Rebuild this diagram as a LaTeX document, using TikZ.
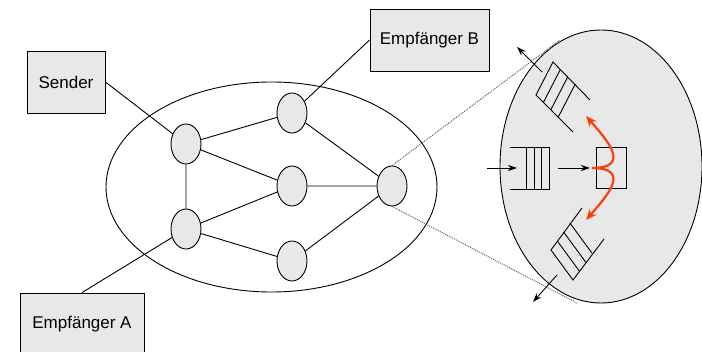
\documentclass[tikz,border=0pt]{standalone}
\usepackage{fontspec}
\setmainfont{Liberation Sans}
\usepackage{tikz}
\usetikzlibrary{shapes.geometric,arrows.meta}
\definecolor{cbox}{HTML}{E8E8E8}
\definecolor{cred}{HTML}{FF3D0F}

\begin{document}
\begin{tikzpicture}[>={Stealth[length=9pt,width=6pt]},x=1pt,y=-1pt,line width=0.9pt,
    font=\fontsize{17}{20}\selectfont,
    endpoint/.style={draw,fill=cbox,minimum height=62pt,inner sep=0pt},
    router/.style={draw,ellipse,fill=cbox,minimum width=30pt,minimum height=40pt,inner sep=0pt},
    zoomline/.style={black!60,densely dotted,line width=1pt}]
  \useasboundingbox (0,0) rectangle (702,352);
  % Netz
  \draw (271.5,187) ellipse [x radius=165.5, y radius=105];
  \node[endpoint,minimum width=78pt] (sender) at (66,82) {Sender};
  \node[endpoint,minimum width=119pt] (empfB) at (429.5,40) {Empfänger B};
  \node[endpoint,minimum width=124pt] (empfA) at (82,324) {Empfänger A};
  \node[router] (r1) at (186,144) {};
  \node[router] (r2) at (186,229) {};
  \node[router] (r3) at (292,113) {};
  \node[router] (r4) at (292,186) {};
  \node[router] (r5) at (292,261) {};
  \node[router] (r6) at (392,186) {};
  \draw (sender.east) -- (r1) -- (r3) -- (r6) -- (r4) -- (r1) -- (r2) -- (r4);
  \draw (r2) -- (r5) -- (r6);
  \draw (r3) -- (empfB.west);
  \draw (r2) -- (empfA.north);
  % Router vergroessert
  \draw[fill=cbox] (601,166.5) ellipse [x radius=101, y radius=136.5];
  \coordinate (zoomtop) at (560,40);
  \coordinate (zoombot) at (577,303);
  \draw[zoomline] (r6.north) -- (zoomtop);
  \draw[zoomline] (r6.south) -- (zoombot);
  % Eingangspuffer
  \draw (510,147) -- (549,147) -- (549,189) -- (510,189);
  \foreach \x in {526,534,541}
    \draw (\x,147) -- (\x,189);
  \node[draw,minimum width=30pt,minimum height=41pt,inner sep=0pt] (server) at (611,167.5) {};
  \coordinate (inA) at (487,168);
  \coordinate (inB) at (517,168);
  \coordinate (outA) at (558,168);
  \coordinate (outB) at (590,168);
  \draw[->] (inA) -- (inB);
  \draw[->] (outA) -- (outB);
  % Ausgangspuffer oben
  \draw (590,100) -- (553,62) -- (536,95) -- (573,132);
  \foreach \k in {1,2,3}
    \draw (553+7.4*\k,62+7.4*\k) -- (536+7.4*\k,95+7.4*\k);
  \coordinate (upA) at (542,72);
  \coordinate (upB) at (517,47);
  \draw[->] (upA) -- (upB);
  % Ausgangspuffer unten
  \draw (582,208) -- (551,250) -- (573,280) -- (604,239);
  \foreach \k in {1,2,3}
    \draw (551+6.3*\k,250-9*\k) -- (573+6.3*\k,280-9*\k);
  \coordinate (loA) at (557,275);
  \coordinate (loB) at (533,302);
  \draw[->] (loA) -- (loB);
  % Weiterleitung
  \draw[cred,line width=2.2pt,{Stealth[length=11pt,width=9pt]}-{Stealth[length=11pt,width=9pt]}]
    (586,116) .. controls (607,140) and (632,168) .. (592,168)
    .. controls (632,168) and (607,196) .. (586,220);
\end{tikzpicture}
\end{document}
